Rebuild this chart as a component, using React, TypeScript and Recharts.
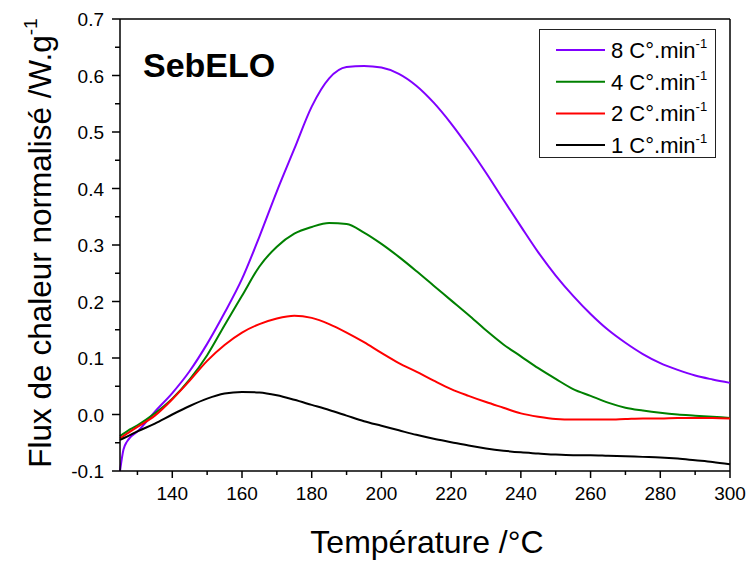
import React from 'react';
import { LineChart, Line, XAxis, YAxis, ReferenceLine, Customized } from 'recharts';

const temperatures = [125, 126, 127, 128, 130, 135, 140, 145, 150, 155, 160, 165, 170, 175, 180, 185, 190, 195, 200, 205, 210, 215, 220, 225, 230, 235, 240, 245, 250, 255, 260, 265, 270, 275, 280, 285, 290, 295, 300];

const rate8 = [-0.1, -0.062, -0.048, -0.04, -0.03, 0.005, 0.038, 0.077, 0.125, 0.18, 0.24, 0.315, 0.395, 0.47, 0.545, 0.595, 0.615, 0.617, 0.614, 0.603, 0.582, 0.552, 0.515, 0.473, 0.428, 0.38, 0.333, 0.287, 0.246, 0.21, 0.178, 0.15, 0.127, 0.107, 0.091, 0.079, 0.069, 0.062, 0.056];

const rate4 = [-0.038, -0.034, -0.03, -0.026, -0.019, 0.002, 0.028, 0.062, 0.105, 0.158, 0.21, 0.262, 0.297, 0.32, 0.332, 0.339, 0.337, 0.322, 0.302, 0.279, 0.254, 0.228, 0.202, 0.176, 0.149, 0.124, 0.103, 0.082, 0.063, 0.045, 0.033, 0.021, 0.012, 0.007, 0.003, 0.0, -0.002, -0.004, -0.006];

const rate2 = [-0.042, -0.038, -0.034, -0.03, -0.022, -0.002, 0.027, 0.06, 0.095, 0.123, 0.145, 0.16, 0.17, 0.175, 0.171, 0.16, 0.145, 0.128, 0.109, 0.091, 0.076, 0.06, 0.045, 0.033, 0.022, 0.012, 0.002, -0.004, -0.008, -0.009, -0.009, -0.009, -0.008, -0.007, -0.007, -0.006, -0.006, -0.006, -0.007];

const rate1 = [-0.045, -0.042, -0.039, -0.036, -0.03, -0.016, 0.0, 0.015, 0.028, 0.037, 0.04, 0.039, 0.034, 0.026, 0.017, 0.008, -0.002, -0.012, -0.02, -0.028, -0.036, -0.043, -0.049, -0.055, -0.06, -0.064, -0.067, -0.069, -0.071, -0.072, -0.072, -0.073, -0.074, -0.075, -0.076, -0.078, -0.081, -0.084, -0.088];

const xTicks = [130, 140, 150, 160, 170, 180, 190, 200, 210, 220, 230, 240, 250, 260, 270, 280, 290, 300];
const yTicks = [-0.1, -0.05, 0, 0.05, 0.1, 0.15, 0.2, 0.25, 0.3, 0.35, 0.4, 0.45, 0.5, 0.55, 0.6, 0.65, 0.7];

const seriesKeys = ['r8', 'r4', 'r2', 'r1'];
const seriesNames = ['8 C°.min', '4 C°.min', '2 C°.min', '1 C°.min'];
const seriesColors = ['#8000ff', '#008000', '#ff0000', '#000000'];

const title = 'SebELO';
const xLabel = 'Température /°C';
const yLabel = 'Flux de chaleur normalisé /W.g';

const FONT = '"Liberation Sans", Arial, sans-serif';

const data = temperatures.map((t, i) => ({
  t,
  r8: rate8[i],
  r4: rate4[i],
  r2: rate2[i],
  r1: rate1[i],
}));

const XTick = (props: any) => {
  const { x, y, payload } = props;
  const v = payload.value;
  const major = Math.round(v) % 20 === 0;
  return (
    <g>
      <line x1={x} x2={x} y1={y} y2={y + (major ? 7 : 4)} stroke="#000" strokeWidth={1.5} />
      {major && (
        <text x={x} y={y + 29} textAnchor="middle" fontSize={19} fontFamily={FONT} fill="#000">
          {v}
        </text>
      )}
    </g>
  );
};

const YTick = (props: any) => {
  const { x, y, payload } = props;
  const v = payload.value;
  const major = Math.round(v * 100) % 10 === 0;
  return (
    <g>
      <line x1={x} x2={x - (major ? 8 : 5)} y1={y} y2={y} stroke="#000" strokeWidth={1.5} />
      {major && (
        <text x={x - 16} y={y + 7} textAnchor="end" fontSize={19} fontFamily={FONT} fill="#000">
          {v.toFixed(1)}
        </text>
      )}
    </g>
  );
};

const Texts = () => (
  <g>
    <text x={143} y={77} fontSize={34} fontWeight="bold" fontFamily={FONT} fill="#000">
      {title}
    </text>
    <text x={427} y={553} textAnchor="middle" fontSize={32} fontFamily={FONT} fill="#000">
      {xLabel}
    </text>
    <text
      x={51}
      y={243}
      transform="rotate(-90, 51, 243)"
      textAnchor="middle"
      fontSize={31.5}
      fontFamily={FONT}
      fill="#000"
    >
      {yLabel}
      <tspan dy={-14} fontSize={19}>-1</tspan>
    </text>
    <g transform="translate(539, 29)">
      <rect x={0.5} y={0.5} width={176} height={128} fill="#fff" stroke="#222" strokeWidth={1} />
      {seriesNames.map((name, i) => {
        const cy = 21 + i * 31.7;
        return (
          <g key={name}>
            <line x1={17} x2={66} y1={cy} y2={cy} stroke={seriesColors[i]} strokeWidth={2} />
            <text x={72} y={cy + 8} fontSize={22} fontFamily={FONT} fill="#000">
              {name}
              <tspan dy={-10} fontSize={13}>-1</tspan>
            </text>
          </g>
        );
      })}
    </g>
  </g>
);

export default function App() {
  return (
    <div style={{ position: 'absolute', left: 0, top: 0, width: 753, height: 566, background: '#fff' }}>
      <LineChart width={753} height={566} data={data} margin={{ top: 19, right: 23, bottom: 0, left: 0 }}>
        <XAxis
          xAxisId="x"
          dataKey="t"
          type="number"
          domain={[125, 300]}
          ticks={xTicks}
          interval={0}
          height={95}
          tickSize={0}
          tickMargin={0}
          tickLine={false}
          tick={<XTick />}
          axisLine={{ stroke: '#000', strokeWidth: 1.5 }}
        />
        <YAxis
          yAxisId="y"
          type="number"
          domain={[-0.1, 0.7]}
          ticks={yTicks}
          interval={0}
          width={120}
          tickSize={0}
          tickMargin={0}
          tickLine={false}
          tick={<YTick />}
          axisLine={{ stroke: '#000', strokeWidth: 1.5 }}
        />
        <ReferenceLine xAxisId="x" yAxisId="y" x={300} stroke="#000" strokeWidth={1.5} />
        <ReferenceLine xAxisId="x" yAxisId="y" y={0.7} stroke="#000" strokeWidth={1.5} />
        {seriesKeys.map((k, i) => (
          <Line
            key={k}
            xAxisId="x"
            yAxisId="y"
            dataKey={k}
            name={seriesNames[i]}
            type="monotone"
            stroke={seriesColors[i]}
            strokeWidth={2}
            dot={false}
            activeDot={false}
            isAnimationActive={false}
          />
        ))}
        <Customized component={<Texts />} />
      </LineChart>
    </div>
  );
}
